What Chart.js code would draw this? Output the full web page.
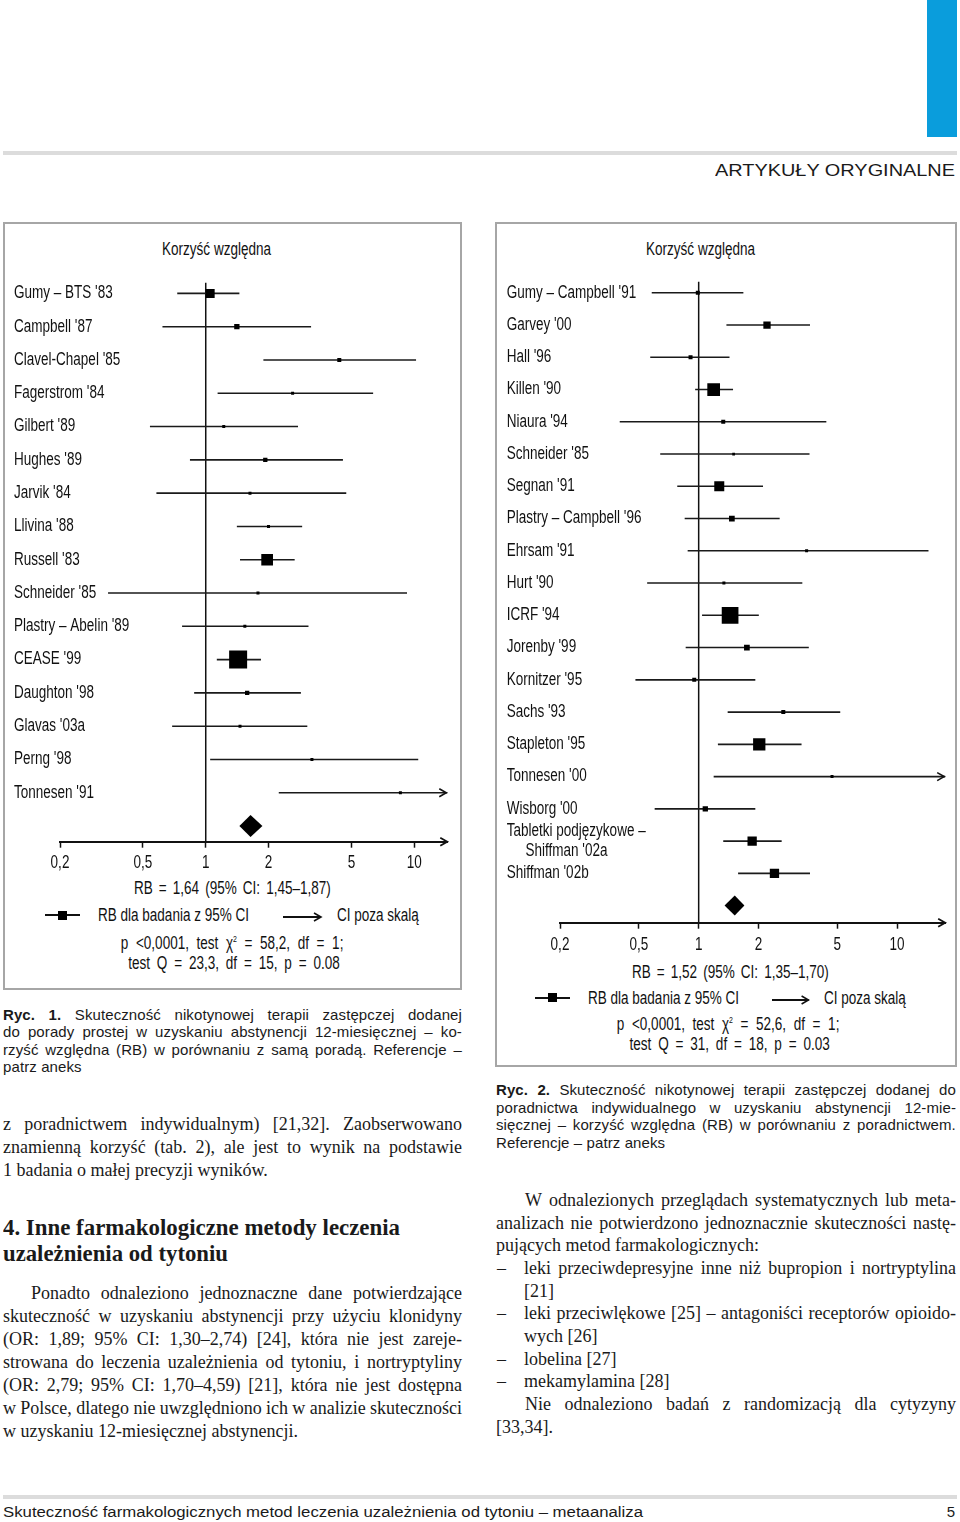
<!DOCTYPE html>
<html><head><meta charset="utf-8">
<script src="https://cdn.jsdelivr.net/npm/chart.js@4.4.0/dist/chart.umd.min.js"></script>
<style>
body{margin:0;background:#fff;}
#page{position:relative;width:960px;height:1522px;overflow:hidden;background:#fff;color:#161616;}
.nar{font-family:'Liberation Sans',Arial,sans-serif;font-size:17.5px;color:#111;}
.sq{display:inline-block;white-space:nowrap;}
canvas{position:absolute;}
</style></head>
<body><div id="page"></div>
<script>
// ---------- DATA : Fig. 1 ----------
const namesL = ["Gumy – BTS '83","Campbell '87","Clavel-Chapel '85","Fagerstrom '84","Gilbert '89","Hughes '89","Jarvik '84","Llivina '88","Russell '83","Schneider '85","Plastry – Abelin '89","CEASE '99","Daughton '98","Glavas '03a","Perng '98","Tonnesen '91"];
const rbL = [1.05,1.41,4.37,2.61,1.22,1.93,1.63,2.00,1.97,1.78,1.54,1.43,1.58,1.46,3.23,8.58];
const loL = [0.73,0.62,1.89,1.14,0.54,0.84,0.58,1.41,1.46,0.34,0.77,1.13,0.88,0.69,1.05,2.24];
const hiL = [1.45,3.20,10.2,6.35,2.77,4.55,4.72,2.90,2.67,9.23,3.11,1.84,2.86,3.07,10.45,30];
const weightL = [9,5.3,4,3,3,4.3,3,3,11.7,3,3,18,4.3,3,3,3];
const pooledL = [1.64,1.45,1.87];
// ---------- DATA : Fig. 2 ----------
const namesR = ["Gumy – Campbell '91","Garvey '00","Hall '96","Killen '90","Niaura '94","Schneider '85","Segnan '91","Plastry – Campbell '96","Ehrsam '91","Hurt '90","ICRF '94","Jorenby '99","Kornitzer '95","Sachs '93","Stapleton '95","Tonnesen '00","Wisborg '00",["Tabletki podjęzykowe –","\u00a0\u00a0\u00a0\u00a0\u00a0Shiffman '02a"],"Shiffman '02b"];
const rbR = [0.99,2.21,0.91,1.19,1.33,1.50,1.27,1.47,3.50,1.34,1.44,1.75,0.95,2.67,2.02,4.70,1.08,1.86,2.41];
const loR = [0.58,1.38,0.57,0.96,0.40,0.64,0.78,0.85,0.88,0.55,1.04,0.86,0.48,1.40,1.25,1.19,0.60,1.33,1.58];
const hiR = [1.68,3.64,1.43,1.49,4.40,3.62,2.11,2.56,14.4,3.33,2.01,3.59,1.93,5.17,3.30,30,1.93,2.62,3.64];
const weightR = [4,7.3,4,12.7,4,2.7,10,5.7,3,3,16.7,5.7,4,4,12.3,3,5.3,9.3,9.3];
const pooledR = [1.52,1.35,1.70];
// ---------- axis ----------
const tickVals = [0.2,0.5,1,2,5,10];
const tickLabels = ['0,2','0,5','1','2','5','10'];

const BASE = "'Liberation Sans',Arial,sans-serif";
const FS = 17.5;
const SERIF = "'Liberation Serif','DejaVu Serif',serif";
const SANS = "'Liberation Sans',Arial,sans-serif";
const page = document.getElementById('page');
const mctx = document.createElement('canvas').getContext('2d');
mctx.font = `${FS}px ${BASE}`;
const SX = 151 / mctx.measureText('RB dla badania z 95% CI').width;

function el(tag, css, html){const e=document.createElement(tag);e.style.cssText=css;if(html!=null)e.innerHTML=html;page.appendChild(e);return e;}
function ctext(html,cx,cy,ws){return el('div',`position:absolute;left:${cx-300}px;top:${cy-10}px;width:600px;height:20px;line-height:20px;text-align:center;white-space:nowrap;`,`<span class="nar sq" style="transform:scaleX(${SX});transform-origin:50% 50%;word-spacing:${ws||0}px;">${html}</span>`);}
function ltext(html,x,cy){return el('div',`position:absolute;left:${x}px;top:${cy-10}px;height:20px;line-height:20px;white-space:nowrap;`,`<span class="nar sq" style="transform:scaleX(${SX});transform-origin:0 50%;">${html}</span>`);}
function fitSpan(d,w){const s=document.createElement('span');s.style.cssText='display:inline-block;white-space:nowrap;transform-origin:0 50%;';s.innerHTML=d.innerHTML;d.innerHTML='';d.style.display='block';d.appendChild(s);const nat=s.getBoundingClientRect().width;if(nat>0)s.style.transform=`scaleX(${w/nat})`;}
function jline(txt,x,cy,w,font,size,lh,justify,boldN,ls){
  const d=el('div',`position:absolute;left:${x}px;top:${cy-lh/2}px;width:${w}px;height:${lh}px;line-height:${lh}px;font-family:${font};font-size:${size}px;letter-spacing:${ls||0}px;white-space:nowrap;color:#1a1a1a;`+(justify?'display:flex;justify-content:space-between;':''));
  const ws=txt.split(' ');
  ws.forEach((t,i)=>{const s=document.createElement('span');s.textContent=t+(justify?'':' ');if(i<(boldN||0))s.style.fontWeight='bold';d.appendChild(s);});
  if(justify && d.scrollWidth>w+0.5){const html=ws.map((t,i)=>i<(boldN||0)?`<b>${t}</b>`:t).join(' ');d.innerHTML=html;fitSpan(d,w);}
  return d;
}
function legend(x1,x2,sq,ax1,ax2,y){
  el('div',`position:absolute;left:${x1}px;top:${y-1}px;width:${x2-x1}px;height:2px;background:#111;`);
  el('div',`position:absolute;left:${sq-4.5}px;top:${y-4.5}px;width:9px;height:9px;background:#000;`);
  el('div',`position:absolute;left:${ax1}px;top:${y-6}px;width:${ax2-ax1+2}px;height:12px;`,
    `<svg width="${ax2-ax1+2}" height="12"><line x1="0" y1="6" x2="${ax2-ax1}" y2="6" stroke="#111" stroke-width="2"/><polyline points="${ax2-ax1-7},2 ${ax2-ax1},6 ${ax2-ax1-7},10" fill="none" stroke="#111" stroke-width="1.6"/></svg>`);
}

// ---------- page frame ----------
el('div','position:absolute;left:927px;top:0;width:30px;height:137px;background:#0a9ddc;');
el('div','position:absolute;left:3px;top:151px;width:954px;height:4px;background:#dcdcdc;');
{const d=el('div',`position:absolute;left:715px;top:160px;width:240px;height:22px;line-height:22px;font-family:${SANS};font-size:17px;color:#1a1a1a;white-space:nowrap;`,'ARTYKUŁY ORYGINALNE');fitSpan(d,240);}
el('div','position:absolute;left:3px;top:1495px;width:954px;height:4px;background:#dcdcdc;');
{const d=el('div',`position:absolute;left:3px;top:1503px;width:640px;height:18px;line-height:18px;font-family:${SANS};font-size:14px;color:#1a1a1a;white-space:nowrap;`,'Skuteczność farmakologicznych metod leczenia uzależnienia od tytoniu – metaanaliza');fitSpan(d,640);}
el('div',`position:absolute;left:930px;top:1503px;width:25px;height:18px;line-height:18px;text-align:right;font-family:${SANS};font-size:15px;color:#1a1a1a;`,'5');

// boxes
el('div','position:absolute;left:3px;top:222px;width:459px;height:768px;border:2px solid #a6a6a6;box-sizing:border-box;');
el('div','position:absolute;left:495px;top:222px;width:462px;height:845px;border:2px solid #a6a6a6;box-sizing:border-box;');

const SUP='<sup style="font-size:9px;vertical-align:7px;line-height:0">2</sup>';
// chart annotations (left)
ctext('Korzyść względna',216.7,249);
ctext('RB = 1,64 (95% CI: 1,45–1,87)',232,888,3);
legend(45,80,62.7,283,321,915);
ltext('RB dla badania z 95% CI',97.7,915);
ltext('CI poza skalą',337,915);
ctext(`p &lt;0,0001, test χ${SUP} = 58,2, df = 1;`,231.7,943,5);
ctext('test Q = 23,3, df = 15, p = 0.08',234,963,4);
// chart annotations (right)
ctext('Korzyść względna',700.8,248.7);
ctext('RB = 1,52 (95% CI: 1,35–1,70)',730,971.7,3);
legend(535,570,552.3,771.7,808.3,997.7);
ltext('RB dla badania z 95% CI',587.7,997.7);
ltext('CI poza skalą',824.3,997.7);
ctext(`p &lt;0,0001, test χ${SUP} = 52,6, df = 1;`,728.3,1024,5);
ctext('test Q = 31, df = 18, p = 0.03',730,1044,4);

// captions
const cap1=["Ryc. 1. Skuteczność nikotynowej terapii zastępczej dodanej","do porady prostej w uzyskaniu abstynencji 12-miesięcznej – ko-","rzyść względna (RB) w porównaniu z samą poradą. Referencje –","patrz aneks"];
cap1.forEach((t,i)=>jline(t,3,1014+i*17.5,459,SANS,15,17,i<3,i==0?2:0,0.1));
const cap2=["Ryc. 2. Skuteczność nikotynowej terapii zastępczej dodanej do","poradnictwa indywidualnego w uzyskaniu abstynencji 12-mie-","sięcznej – korzyść względna (RB) w porównaniu z poradnictwem.","Referencje – patrz aneks"];
cap2.forEach((t,i)=>jline(t,496,1089.5+i*17.5,460,SANS,15,17,i<3,i==0?2:0,0.1));

// body left
const bodyL1=["z poradnictwem indywidualnym) [21,32]. Zaobserwowano","znamienną korzyść (tab. 2), ale jest to wynik na podstawie","1 badania o małej precyzji wyników."];
bodyL1.forEach((t,i)=>jline(t,3,1124+i*23,459,SERIF,18,22,i<2));
{const d=el('div',`position:absolute;left:3px;top:1215px;width:397px;height:26px;line-height:26px;font-family:${SERIF};font-size:22.5px;font-weight:bold;color:#1a1a1a;white-space:nowrap;`,'4. Inne farmakologiczne metody leczenia');fitSpan(d,397);}
{const d=el('div',`position:absolute;left:3px;top:1241px;width:225px;height:26px;line-height:26px;font-family:${SERIF};font-size:22.5px;font-weight:bold;color:#1a1a1a;white-space:nowrap;`,'uzależnienia od tytoniu');fitSpan(d,225);}
const bodyL2=["Ponadto odnaleziono jednoznaczne dane potwierdzające","skuteczność w uzyskaniu abstynencji przy użyciu klonidyny","(OR: 1,89; 95% CI: 1,30–2,74) [24], która nie jest zareje-","strowana do leczenia uzależnienia od tytoniu, i nortryptyliny","(OR: 2,79; 95% CI: 1,70–4,59) [21], która nie jest dostępna","w Polsce, dlatego nie uwzględniono ich w analizie skuteczności","w uzyskaniu 12-miesięcznej abstynencji."];
bodyL2.forEach((t,i)=>jline(t,i==0?31:3,1293+i*23,i==0?431:459,SERIF,18,22,i<6));
// body right
const R=[["W odnalezionych przeglądach systematycznych lub meta-",525,1200,431,true],
["analizach nie potwierdzono jednoznacznie skuteczności nastę-",496,1222.7,460,true],
["pujących metod farmakologicznych:",496,1245.4,460,false],
["leki przeciwdepresyjne inne niż bupropion i nortryptylina",524,1268,432,true],
["[21]",524,1290.7,432,false],
["leki przeciwlękowe [25] – antagoniści receptorów opioido-",524,1313.4,432,true],
["wych [26]",524,1336,432,false],
["lobelina [27]",524,1358.7,432,false],
["mekamylamina [28]",524,1381.4,432,false],
["Nie odnaleziono badań z randomizacją dla cytyzyny",525,1404,431,true],
["[33,34].",496,1426.7,460,false]];
R.forEach(r=>jline(r[0],r[1],r[2],r[3],SERIF,18,22,r[4]));
[1268,1313.4,1358.7,1381.4].forEach(y=>jline('–',497,y,20,SERIF,18,22,false));

// ---------- charts ----------
Chart.defaults.font.family = BASE;
Chart.defaults.font.size = FS;
Chart.defaults.color = '#111';

function arrowHead(ctx,x,y){ctx.beginPath();ctx.moveTo(x-7,y-4);ctx.lineTo(x,y);ctx.lineTo(x-7,y+4);ctx.stroke();}
function sText(ctx,t,x,y){ctx.save();ctx.translate(x,y);ctx.scale(SX,1);ctx.fillText(t,0,0);ctx.restore();}
const forestDecor = {
  id:'forestDecor',
  beforeDatasetsDraw(chart,args,o){
    const {ctx,chartArea:a,scales:{x}}=chart;const px=x.getPixelForValue(1);
    ctx.save();ctx.strokeStyle='#111';ctx.lineWidth=1.5;ctx.beginPath();ctx.moveTo(px,a.top);ctx.lineTo(px,a.bottom);ctx.stroke();ctx.restore();
  },
  afterDatasetsDraw(chart,args,o){
    const {ctx,chartArea:a,scales:{x,y}}=chart;
    ctx.save();
    const yd=y.getPixelForValue(o.diamondRow);
    ctx.fillStyle='#000';ctx.beginPath();
    ctx.moveTo(x.getPixelForValue(o.pooled[1]),yd);
    ctx.lineTo(x.getPixelForValue(o.pooled[0]),yd-o.dh);
    ctx.lineTo(x.getPixelForValue(o.pooled[2]),yd);
    ctx.lineTo(x.getPixelForValue(o.pooled[0]),yd+o.dh);
    ctx.closePath();ctx.fill();
    ctx.strokeStyle='#111';ctx.lineWidth=1.6;
    o.hi.forEach((h,i)=>{if(h>x.max)arrowHead(ctx,a.right-1,y.getPixelForValue(i));});
    ctx.restore();
  },
  afterDraw(chart,args,o){
    const {ctx,chartArea:a,scales:{x,y}}=chart;
    ctx.save();ctx.strokeStyle='#111';ctx.lineWidth=1.8;arrowHead(ctx,a.right,a.bottom);
    ctx.fillStyle='#111';ctx.font=`${FS}px ${BASE}`;ctx.textBaseline='middle';
    ctx.textAlign='left';
    o.names.forEach((nm,i)=>{
      const lines=Array.isArray(nm)?nm:[nm];const py=y.getPixelForValue(i);
      lines.forEach((ln,j)=>sText(ctx,ln,y.left,py+(j-(lines.length-1)/2)*o.lh));
    });
    ctx.textAlign='center';
    tickVals.forEach((v,i)=>sText(ctx,tickLabels[i],x.getPixelForValue(v),a.bottom+o.xl));
    ctx.restore();
  }
};

function forest(canvas, names, rb, lo, hi, weight, pooled, g){
  const ds=[];
  names.forEach((_,i)=>ds.push({data:[{x:lo[i],y:i},{x:hi[i],y:i}],showLine:true,borderColor:'#1a1a1a',borderWidth:1.6,pointRadius:0,pointHoverRadius:0,order:2}));
  const r=weight.map(s=>s/Math.SQRT2);
  ds.push({data:rb.map((v,i)=>({x:v,y:i})),pointStyle:'rect',pointRadius:r,pointHoverRadius:r,backgroundColor:'#000',borderColor:'#000',borderWidth:0,order:1});
  return new Chart(canvas,{
    type:'scatter',
    data:{datasets:ds},
    options:{
      responsive:false,animation:false,events:[],
      layout:{padding:g.pad},
      plugins:{legend:{display:false},tooltip:{enabled:false},forestDecor:{pooled,hi,names,diamondRow:names.length,dh:g.dh,lh:20.3,xl:g.xl}},
      scales:{
        x:{type:'logarithmic',min:0.2,max:g.xmax,
          afterBuildTicks:s=>{s.ticks=tickVals.map(v=>({value:v}));s.min=0.2;s.max=g.xmax;},
          afterFit:s=>{s.height=30;},
          ticks:{display:false,callback:(v,i)=>tickLabels[i],autoSkip:false,maxRotation:0,minRotation:0},
          grid:{drawOnChartArea:false,drawTicks:true,tickLength:6,tickColor:'#111',tickWidth:1.5,color:'#111'},
          border:{display:true,color:'#111',width:2}},
        y:{type:'linear',reverse:true,min:g.ymin,max:g.ymax,
          afterBuildTicks:s=>{s.ticks=names.map((_,i)=>({value:i}));s.min=g.ymin;s.max=g.ymax;},
          afterFit:s=>{s.width=g.yw;},
          ticks:{display:false,autoSkip:false},
          grid:{display:false},border:{display:false}}
      }
    },
    plugins:[forestDecor]
  });
}
function mkCanvas(x,y,w,h){const c=document.createElement('canvas');c.width=w;c.height=h;c.style.left=x+'px';c.style.top=y+'px';c.style.width=w+'px';c.style.height=h+'px';page.appendChild(c);return c;}

forest(mkCanvas(4,270,456,620),namesL,rbL,loL,hiL,weightL,pooledL,
  {pad:{left:10,right:10,top:12,bottom:18.3},yw:46,xmax:14.4,ymin:-0.321,ymax:16.47,dh:11,xl:21.3});
forest(mkCanvas(497,270,460,700),namesR,rbR,loR,hiR,weightR,pooledR,
  {pad:{left:9.7,right:7.7,top:11,bottom:17.3},yw:53.3,xmax:17.48,ymin:-0.34,ymax:19.53,dh:10,xl:22.3});
</script>
</body></html>
